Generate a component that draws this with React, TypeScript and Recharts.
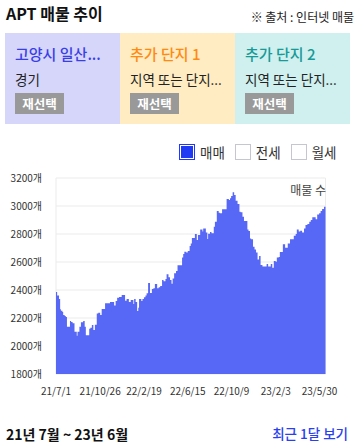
import React from "react";
import { AreaChart, Area, XAxis, YAxis, CartesianGrid } from "recharts";

// days since 2021-07-01 where the weekly listing count changes
const dayOffsets = [
  0, 3, 8, 11, 13, 17, 19, 23, 26, 29, 37, 40, 44, 49, 55, 57, 62, 66, 72, 76,
  79, 88, 91, 95, 99, 103, 108, 112, 117, 121, 130, 143, 154, 158, 162, 167, 174, 183, 187, 193,
  198, 205, 207, 211, 215, 218, 220, 226, 229, 233, 237, 240, 244, 249, 254, 258, 262, 268, 272, 276,
  281, 285, 290, 293, 298, 302, 306, 309, 313, 318, 322, 334, 337, 340, 345, 349, 354, 357, 360, 368,
  373, 376, 382, 388, 390, 397, 401, 403, 408, 412, 418, 421, 426, 431, 434, 440, 452, 458, 461, 464,
  468, 472, 476, 481, 486, 489, 494, 498, 507, 510, 514, 517, 522, 526, 530, 534, 538, 542, 547, 558,
  562, 569, 573, 577, 582, 585, 590, 593, 601, 607, 614, 620, 630, 635, 638, 643, 647, 652, 657, 661,
  666, 671, 675, 679, 688, 692, 697, 701, 705, 710,
];
const listingCounts = [
  2386, 2360, 2336, 2262, 2252, 2243, 2221, 2214, 2207, 2138, 2179, 2171, 2162, 2102, 2074, 2102, 2138, 2169, 2179, 2138,
  2076, 2124, 2131, 2150, 2114, 2152, 2233, 2238, 2221, 2264, 2305, 2314, 2290, 2321, 2345, 2350, 2364, 2324, 2336, 2314,
  2329, 2300, 2336, 2314, 2250, 2274, 2336, 2321, 2336, 2348, 2360, 2376, 2450, 2379, 2407, 2412, 2443, 2412, 2419, 2429,
  2471, 2462, 2479, 2512, 2491, 2471, 2445, 2483, 2519, 2536, 2576, 2633, 2657, 2674, 2667, 2679, 2714, 2733, 2771, 2800,
  2757, 2793, 2833, 2817, 2840, 2810, 2764, 2802, 2814, 2805, 2852, 2888, 2964, 2952, 2948, 2976, 3050, 3043, 3055, 3071,
  3098, 3079, 3038, 3014, 2959, 2955, 2924, 2893, 2833, 2821, 2767, 2762, 2709, 2690, 2667, 2617, 2643, 2579, 2567, 2586,
  2567, 2586, 2559, 2607, 2602, 2633, 2636, 2671, 2726, 2702, 2733, 2762, 2788, 2800, 2833, 2817, 2824, 2810, 2840, 2864,
  2871, 2888, 2900, 2919, 2905, 2940, 2948, 2964, 2979, 2995,
];
const lastDay = 714;

const tickDays = [0, 117, 233, 349, 465, 582, 698];
const tickLabels = ["21/7/1", "21/10/26", "22/2/19", "22/6/15", "22/10/9", "23/2/3", "23/5/30"];
const yTicks = [1800, 2000, 2200, 2400, 2600, 2800, 3000, 3200];

const cards = [
  { title: "고양시 일산...", sub: "경기", bg: "#d5d6fa", color: "#3a3ee8" },
  { title: "추가 단지 1", sub: "지역 또는 단지...", bg: "#ffecc3", color: "#ff8a12" },
  { title: "추가 단지 2", sub: "지역 또는 단지...", bg: "#cff0ee", color: "#179a98" },
];
const dealTypes = ["매매", "전세", "월세"];

const chartData = dayOffsets.map((d, i) => ({ day: d, count: listingCounts[i] }));
chartData.push({ day: lastDay, count: listingCounts[listingCounts.length - 1] });

const FONT = '"Noto Sans CJK KR", "Noto Sans", sans-serif';

export default function App() {
  return (
    <div style={{ position: "relative", width: 358, height: 447, fontFamily: FONT, color: "#222", background: "#fff" }}>
      <style>{`body{margin:0}`}</style>
      <div style={{ position: "absolute", left: 6, top: 1, fontSize: 16, fontWeight: 700, color: "#111" }}>APT 매물 추이</div>
      <div style={{ position: "absolute", right: 4, top: 8, fontSize: 12, color: "#222" }}>※ 출처 : 인터넷 매물</div>

      <div style={{ position: "absolute", left: 5, top: 33, display: "flex" }}>
        {cards.map((c) => (
          <div key={c.title} style={{ width: 115, height: 91, background: c.bg, boxSizing: "border-box", padding: "10px 0 0 10px" }}>
            <div style={{ fontSize: 15, fontWeight: 500, color: c.color, lineHeight: "22px", whiteSpace: "nowrap" }}>{c.title}</div>
            <div style={{ fontSize: 13.5, color: "#222", lineHeight: "20px", marginTop: 4, whiteSpace: "nowrap" }}>{c.sub}</div>
            <div style={{ marginTop: 4, width: 49, height: 21, background: "#999", color: "#fff", fontSize: 12.5, fontWeight: 700, lineHeight: "21px", textAlign: "center" }}>재선택</div>
          </div>
        ))}
      </div>

      <div style={{ position: "absolute", left: 179, top: 142, display: "flex", alignItems: "center" }}>
        {dealTypes.map((t, i) => (
          <div key={t} style={{ display: "flex", alignItems: "center", marginRight: 10 }}>
            <div
              style={{
                width: 16,
                height: 16,
                boxSizing: "border-box",
                border: i === 0 ? "1px solid #1f3af2" : "1px solid #c6c6ce",
                background: i === 0 ? "#1f3af2" : "#fff",
                boxShadow: i === 0 ? "inset 0 0 0 1px #fff" : "none",
              }}
            />
            <span style={{ marginLeft: 5, fontSize: 13.5, color: "#333" }}>{t}</span>
          </div>
        ))}
      </div>

      <div style={{ position: "absolute", left: 0, top: 160 }}>
        <AreaChart width={358} height={244} data={chartData} margin={{ top: 18, right: 32.5, bottom: 0, left: 0 }}>
          <CartesianGrid
            stroke="#ebebeb"
            verticalCoordinatesGenerator={({ offset }: any) => [offset.left, offset.left + offset.width]}
          />
          <XAxis
            dataKey="day"
            type="number"
            domain={[0, lastDay]}
            ticks={tickDays}
            interval={0}
            tickFormatter={(d: number) => tickLabels[tickDays.indexOf(d)]}
            axisLine={false}
            tickLine={false}
            tickMargin={8}
            height={30}
            tick={{ fontSize: 10, fill: "#333" }}
          />
          <YAxis
            type="number"
            domain={[1800, 3200]}
            ticks={yTicks}
            width={56}
            tickFormatter={(v: number) => `${v}개`}
            axisLine={false}
            tickLine={false}
            tickMargin={8}
            tick={{ fontSize: 10, fill: "#333" }}
          />
          <Area
            type="stepAfter"
            dataKey="count"
            stroke="none"
            fill="#5767f6"
            fillOpacity={1}
            isAnimationActive={false}
          />
        </AreaChart>
      </div>
      <div style={{ position: "absolute", right: 32, top: 181, fontSize: 12, color: "#444" }}>매물 수</div>

      <div style={{ position: "absolute", left: 6, top: 424, fontSize: 14, fontWeight: 700, color: "#111" }}>21년 7월 ~ 23년 6월</div>
      <div style={{ position: "absolute", right: 10, top: 423, fontSize: 13.5, fontWeight: 500, color: "#2a3ff0" }}>최근 1달 보기</div>
    </div>
  );
}
